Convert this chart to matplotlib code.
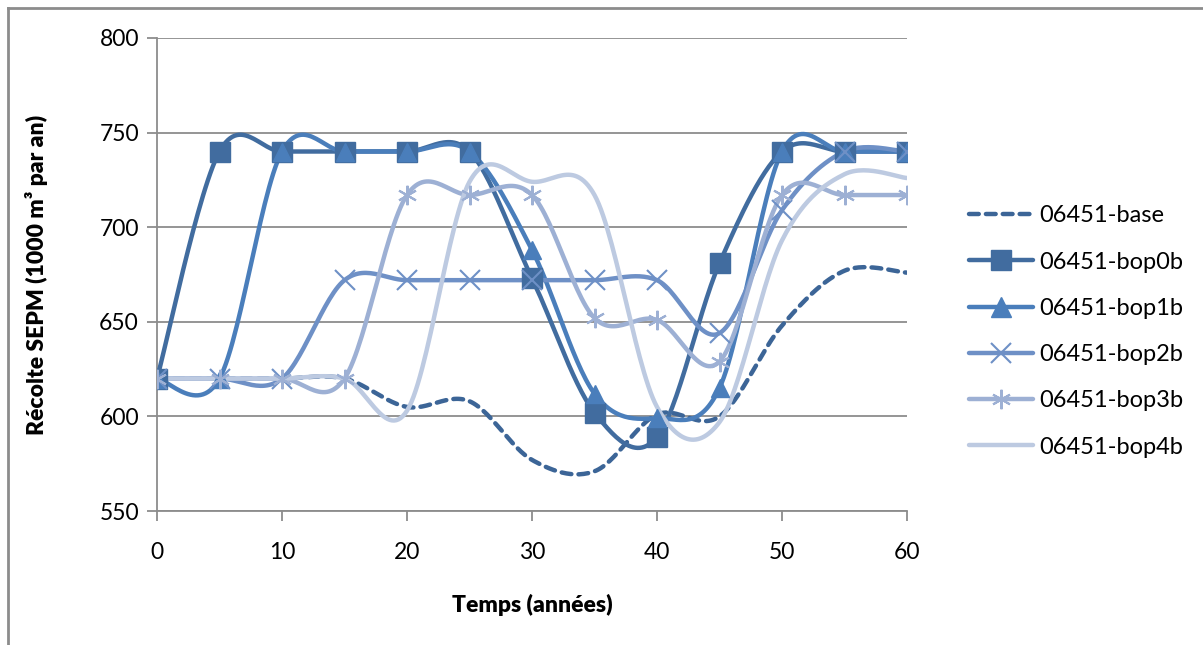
import numpy as np
import matplotlib.pyplot as plt
from matplotlib.lines import Line2D

plt.rcParams['font.family'] = ['Lato', 'DejaVu Sans']

temps = [0, 5, 10, 15, 20, 25, 30, 35, 40, 45, 50, 55, 60]
base = [620, 620, 620, 620, 605, 608, 577, 571, 601, 600, 648, 677, 676]
bop0b = [620, 740, 740, 740, 740, 740, 673, 602, 589, 681, 740, 740, 740]
bop1b = [620, 620, 740, 740, 740, 740, 688, 612, 599, 615, 740, 740, 740]
bop2b = [620, 620, 620, 672, 672, 672, 672, 672, 672, 644, 709, 740, 740]
bop3b = [620, 620, 620, 620, 717, 717, 717, 652, 651, 629, 717, 717, 717]
bop4b = [620, 620, 620, 620, 603, 724, 724, 717, 605, 597, 693, 728, 726]


def lisse(x, y, n=30):
    # courbe lissee type Bezier (tangentes Catmull-Rom)
    x = np.asarray(x, float)
    y = np.asarray(y, float)
    px = np.concatenate([[x[0]], x, [x[-1]]])
    py = np.concatenate([[y[0]], y, [y[-1]]])
    xs, ys = [], []
    t = np.linspace(0, 1, n)
    for i in range(1, len(px) - 2):
        p0 = np.array([px[i], py[i]])
        p3 = np.array([px[i + 1], py[i + 1]])
        p1 = p0 + (np.array([px[i + 1], py[i + 1]]) - np.array([px[i - 1], py[i - 1]])) / 6
        p2 = p3 - (np.array([px[i + 2], py[i + 2]]) - np.array([px[i], py[i]])) / 6
        b = ((1 - t) ** 3)[:, None] * p0 + (3 * (1 - t) ** 2 * t)[:, None] * p1 \
            + (3 * (1 - t) * t ** 2)[:, None] * p2 + (t ** 3)[:, None] * p3
        xs.extend(b[:, 0])
        ys.extend(b[:, 1])
    return xs, ys


series = [
    ('06451-base', base, '#3C6597', None, (0, (2.2, 1.6))),
    ('06451-bop0b', bop0b, '#416C9F', 's', '-'),
    ('06451-bop1b', bop1b, '#4A7EBB', '^', '-'),
    ('06451-bop2b', bop2b, '#6E90C6', 'x', '-'),
    ('06451-bop3b', bop3b, '#9DB0D4', (6, 2, 0), '-'),
    ('06451-bop4b', bop4b, '#BDCAE1', None, '-'),
]

fig = plt.figure(figsize=(12.03, 6.45), dpi=100)
ax = fig.add_axes([157 / 1203, 1 - 511 / 645, 750 / 1203, 473 / 645])

handles = []
for nom, vals, coul, mk, ls in series:
    xs, ys = lisse(temps, vals)
    ax.plot(xs, ys, color=coul, lw=3.2, ls=ls, solid_capstyle='round',
            dash_capstyle='round', zorder=3)
    fin = mk == 'x' or isinstance(mk, tuple)
    if mk is not None:
        if fin:
            ax.plot(temps, vals, ls='none', marker=mk, ms=14, mec=coul, mew=1.5, zorder=4)
        else:
            ms = 14 if mk == 's' else 13
            ax.plot(temps, vals, ls='none', marker=mk, ms=ms, mfc=coul, mec=coul, zorder=4)
    if fin:
        h = Line2D([], [], color=coul, lw=3.2, ls=ls, marker=mk, ms=14, mew=1.5,
                   mec=coul, solid_capstyle='round', dash_capstyle='round')
    else:
        h = Line2D([], [], color=coul, lw=3.2, ls=ls, marker=mk, ms=14, mfc=coul,
                   mec=coul, solid_capstyle='round', dash_capstyle='round')
    handles.append(h)

ax.set_xlim(0, 60)
ax.set_ylim(550, 800)
ax.set_xticks(range(0, 61, 10))
ax.set_yticks(range(550, 801, 50))
ax.grid(axis='y', color='#8C8C8C', lw=1.3)
ax.set_axisbelow(True)
for s in ['top', 'right']:
    ax.spines[s].set_visible(False)
for s in ['left', 'bottom']:
    ax.spines[s].set_color('#8C8C8C')
    ax.spines[s].set_linewidth(1.3)
ax.tick_params(colors='#8C8C8C', labelcolor='black', labelsize=16.5, length=7,
               width=1.3, pad=6)
ax.tick_params(axis='x', pad=15)

ax.set_xlabel('Temps (années)', fontsize=16.5, fontweight='heavy')
ax.set_ylabel('Récolte SEPM (1000 m³ par an)', fontsize=16.5, fontweight='heavy')
ax.xaxis.set_label_coords(0.5, -0.176)
ax.yaxis.set_label_coords(-0.145, 0.5)

fig.legend(handles=handles, labels=[s[0] for s in series], loc='upper left',
           bbox_to_anchor=(948 / 1203, 1 - 184 / 645), frameon=False, fontsize=17,
           handlelength=2.7, labelspacing=1.07, handletextpad=0.25)

# cadre du graphique
fig.add_artist(Line2D([8 / 1203, 8 / 1203], [0, 1 - 8 / 645], color='#8C8C8C', lw=2))
fig.add_artist(Line2D([8 / 1203, 1], [1 - 8 / 645, 1 - 8 / 645], color='#8C8C8C', lw=2))

fig.savefig('out.png', dpi=100)
